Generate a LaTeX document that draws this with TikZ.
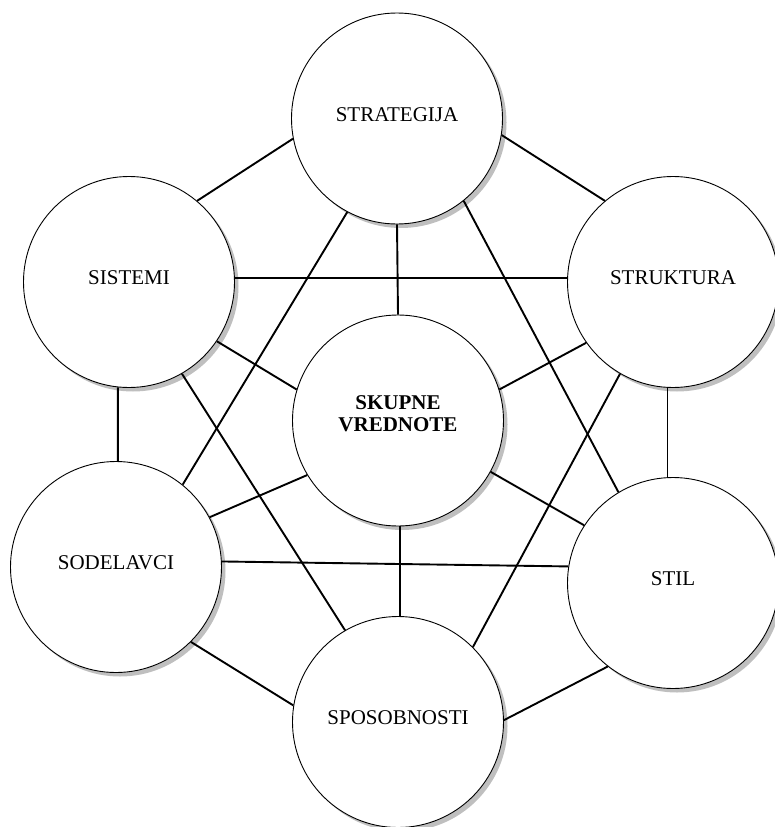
\documentclass[tikz,border=0pt]{standalone}
\usepackage{fontspec}
\setmainfont{Liberation Serif}
\usetikzlibrary{shadows}
\begin{document}
\begin{tikzpicture}[x=1pt,y=-1pt,
  factor/.style={circle, draw, line width=0.9pt, fill=white, minimum size=211pt, inner sep=0pt, align=center,
    text depth=8pt, font=\fontsize{21}{21.5}\selectfont,
    drop shadow={shadow xshift=4pt, shadow yshift=-4pt, fill=gray!50, opacity=1}},
  link/.style={line width=1.9pt}]
\useasboundingbox (0,0) rectangle (774,827);

    \node[factor] (str) at (397,118.5) {STRATEGIJA};
    \node[factor] (sis) at (129,282) {SISTEMI};
    \node[factor] (stu) at (673,282) {STRUKTURA};
    \node[factor, text depth=14pt] (sku) at (398,420.5) {\textbf{SKUPNE}\\\textbf{VREDNOTE}};
    \node[factor] (sod) at (116,567) {SODELAVCI};
    \node[factor] (sti) at (673,583) {STIL};
    \node[factor] (spo) at (398,722) {SPOSOBNOSTI};

    % each pair: node/angle on its border
    \foreach \a/\p/\b/\q in {str/191/sis/50, str/-9/stu/130, str/-90/sku/90, str/-118/sod/51, str/-51/sti/121,
        sis/2/stu/178, sis/-34/sku/163, sis/-96/sod/89, sis/-60/spo/120,
        stu/-145/sku/17, stu/-93/sti/93, stu/-120/spo/45,
        sku/-149/sod/28, sku/-29/sti/147, sku/-89/spo/89,
        sod/3/sti/171, sod/-45/spo/171, sti/-128/spo/1}
        \draw[link] (\a.\p) -- (\b.\q);

\end{tikzpicture}
\end{document}
